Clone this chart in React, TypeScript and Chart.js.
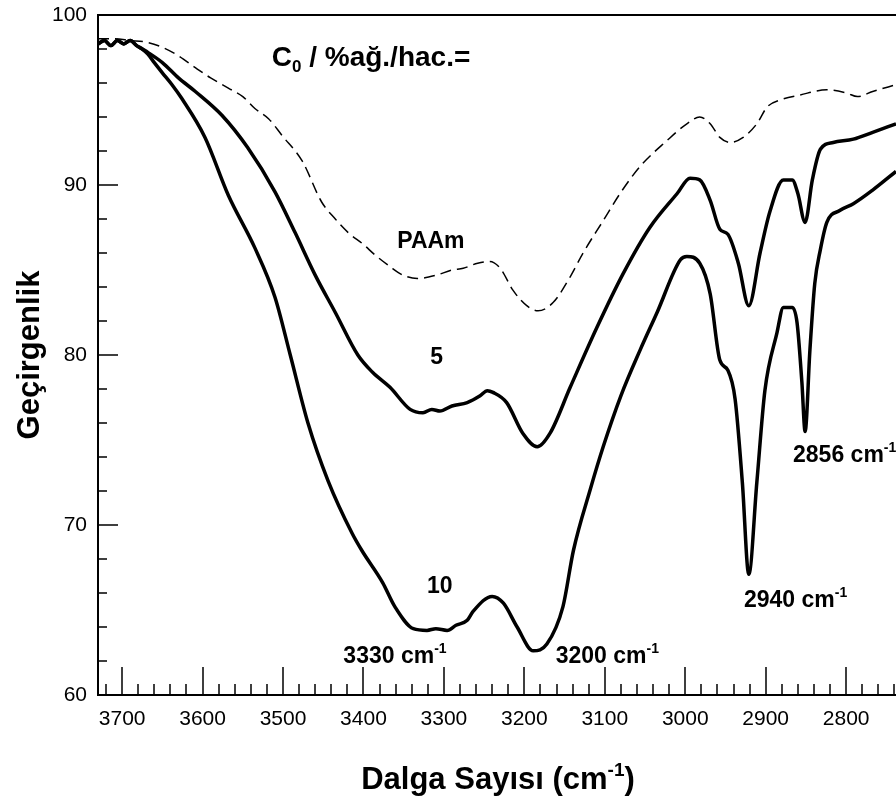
import React, { useEffect, useRef } from "react";
import { Chart, registerables } from "chart.js";

Chart.register(...registerables);

const FONT = '"Liberation Sans", Arial, Helvetica, sans-serif';

// Axis tick labels
const xTickValues = [3700, 3600, 3500, 3400, 3300, 3200, 3100, 3000, 2900, 2800];
const yTickValues = [60, 70, 80, 90, 100];

// Series: [wavenumber (cm-1), transmittance (%)]
const paamSeries: [number, number][] = [
  [3730, 98.6], [3710, 98.6], [3690, 98.5], [3670, 98.4], [3650, 98.1], [3630, 97.6],
  [3609, 96.9], [3590, 96.3], [3568, 95.7], [3550, 95.2], [3535, 94.5], [3518, 93.9],
  [3501, 92.9], [3476, 91.4], [3452, 89.0], [3435, 88.0], [3419, 87.2], [3400, 86.5],
  [3386, 85.9], [3367, 85.2], [3351, 84.7], [3333, 84.5], [3309, 84.7], [3290, 85.0],
  [3276, 85.1], [3258, 85.4], [3243, 85.5], [3230, 85.1], [3214, 83.8], [3197, 82.9],
  [3183, 82.6], [3164, 83.1], [3143, 84.6], [3127, 86.0], [3102, 87.9], [3081, 89.5],
  [3056, 91.1], [3023, 92.6], [2998, 93.6], [2982, 94.0], [2969, 93.6], [2957, 92.8],
  [2944, 92.5], [2928, 92.8], [2911, 93.6], [2898, 94.6], [2882, 95.0], [2857, 95.3],
  [2824, 95.6], [2799, 95.4], [2786, 95.2], [2767, 95.5], [2738, 95.9],
];

const c5Series: [number, number][] = [
  [3730, 98.3], [3722, 98.5], [3714, 98.2], [3706, 98.5], [3698, 98.3], [3690, 98.5],
  [3682, 98.2], [3675, 98.0], [3668, 97.8], [3650, 97.2], [3630, 96.3], [3609, 95.5],
  [3576, 94.1], [3544, 92.2], [3510, 89.6], [3485, 87.2], [3460, 84.7], [3435, 82.5],
  [3407, 80.0], [3389, 79.0], [3367, 78.1], [3342, 76.8], [3326, 76.6], [3315, 76.8],
  [3305, 76.7], [3290, 77.0], [3271, 77.2], [3255, 77.6], [3246, 77.9], [3239, 77.8],
  [3222, 77.2], [3202, 75.4], [3184, 74.6], [3168, 75.4], [3143, 78.1], [3110, 81.6],
  [3077, 84.8], [3044, 87.5], [3010, 89.5], [2994, 90.4], [2982, 90.3], [2969, 89.1],
  [2957, 87.4], [2947, 87.1], [2934, 85.4], [2921, 82.9], [2907, 86.0], [2895, 88.4],
  [2878, 90.3], [2867, 90.3], [2860, 89.5], [2851, 87.8], [2842, 90.3], [2832, 92.1],
  [2816, 92.5], [2791, 92.7], [2767, 93.1], [2738, 93.6],
];

const c10Series: [number, number][] = [
  [3730, 98.3], [3722, 98.5], [3714, 98.2], [3706, 98.5], [3698, 98.3], [3690, 98.5],
  [3682, 98.2], [3675, 98.0], [3668, 97.7], [3660, 97.2], [3650, 96.6], [3638, 95.9],
  [3626, 95.1], [3597, 92.8], [3568, 89.4], [3535, 86.3], [3510, 83.4], [3491, 80.0],
  [3469, 76.0], [3444, 72.6], [3414, 69.5], [3402, 68.5], [3376, 66.6], [3361, 65.2],
  [3338, 63.9], [3321, 63.8], [3310, 63.9], [3296, 63.8], [3285, 64.1], [3271, 64.4],
  [3264, 64.9], [3240, 65.8], [3226, 65.4], [3209, 64.0], [3189, 62.6], [3172, 63.0],
  [3152, 65.2], [3139, 68.5], [3118, 72.1], [3102, 74.6], [3080, 77.6], [3056, 80.3],
  [3035, 82.5], [3006, 85.6], [2998, 85.8], [2982, 85.4], [2969, 83.6], [2957, 79.7],
  [2947, 79.1], [2938, 77.4], [2929, 72.5], [2921, 67.1], [2911, 72.5], [2901, 77.9],
  [2886, 81.3], [2878, 82.8], [2867, 82.8], [2861, 81.9], [2855, 78.4], [2851, 75.5],
  [2845, 80.3], [2839, 84.2], [2832, 86.2], [2824, 87.8], [2808, 88.5], [2791, 88.9],
  [2767, 89.7], [2738, 90.8],
];

// Text annotations: label, superscript, anchor (data coords)
const annotationTexts = ["PAAm", "5", "10", "3330 cm", "3200 cm", "2940 cm", "2856 cm"];
const annotationSup = ["", "", "", "-1", "-1", "-1", "-1"];
const annotationX = [3358, 3317, 3321, 3425, 3161, 2927, 2866];
const annotationY = [86.3, 79.5, 66.0, 61.9, 61.9, 65.2, 73.7];

type Part = { t: string; size: number; dy: number };

function drawParts(ctx: CanvasRenderingContext2D, parts: Part[], x: number, y: number, align: "left" | "center") {
  let total = 0;
  for (const p of parts) {
    ctx.font = `bold ${p.size}px ${FONT}`;
    total += ctx.measureText(p.t).width;
  }
  let cx = align === "center" ? x - total / 2 : x;
  ctx.textAlign = "left";
  ctx.textBaseline = "alphabetic";
  for (const p of parts) {
    ctx.font = `bold ${p.size}px ${FONT}`;
    ctx.fillText(p.t, cx, y + p.dy);
    cx += ctx.measureText(p.t).width;
  }
}

const decorPlugin = {
  id: "decor",
  afterDraw(chart: any) {
    const { ctx, chartArea: a, scales } = chart;
    const xs = scales.x;
    const ys = scales.y;
    ctx.save();
    ctx.strokeStyle = "#000";
    ctx.fillStyle = "#000";
    ctx.lineWidth = 2;
    ctx.beginPath();
    ctx.moveTo(a.left, a.bottom);
    ctx.lineTo(a.left, a.top);
    ctx.lineTo(a.right + 2, a.top);
    ctx.moveTo(a.left - 1, a.bottom);
    ctx.lineTo(a.right + 2, a.bottom);
    ctx.stroke();

    ctx.lineWidth = 1.5;
    ctx.beginPath();
    const xStart = Math.ceil(xs.min / 20) * 20;
    for (let v = xStart; v <= xs.max; v += 20) {
      const px = Math.round(xs.getPixelForValue(v));
      const len = v % 100 === 0 ? 28 : 11;
      ctx.moveTo(px, a.bottom);
      ctx.lineTo(px, a.bottom - len);
    }
    for (let v = ys.min; v <= ys.max; v += 2) {
      const py = Math.round(ys.getPixelForValue(v));
      const len = v % 10 === 0 ? 20 : 9;
      ctx.moveTo(a.left, py);
      ctx.lineTo(a.left + len, py);
    }
    ctx.stroke();

    // Concentration header
    const hx = xs.getPixelForValue(3514);
    const hy = ys.getPixelForValue(97.0);
    drawParts(ctx, [
      { t: "C", size: 28, dy: 0 },
      { t: "0", size: 17, dy: 6 },
      { t: " / %ağ./hac.=", size: 28, dy: 0 },
    ], hx, hy, "left");

    for (let i = 0; i < annotationTexts.length; i++) {
      const ax = xs.getPixelForValue(annotationX[i]);
      const ay = ys.getPixelForValue(annotationY[i]);
      const parts: Part[] = [{ t: annotationTexts[i], size: 23, dy: 0 }];
      if (annotationSup[i]) parts.push({ t: annotationSup[i], size: 14, dy: -10 });
      drawParts(ctx, parts, ax, ay, "left");
    }

    // X axis title
    drawParts(ctx, [
      { t: "Dalga Sayısı (cm", size: 31, dy: 0 },
      { t: "-1", size: 19, dy: -13 },
      { t: ")", size: 31, dy: 0 },
    ], 498, 789, "center");

    // Y axis title
    ctx.translate(39, (a.top + a.bottom) / 2);
    ctx.rotate(-Math.PI / 2);
    drawParts(ctx, [{ t: "Geçirgenlik", size: 31, dy: 0 }], 0, 0, "center");
    ctx.restore();
  },
};

export default function App() {
  const canvasRef = useRef<HTMLCanvasElement | null>(null);

  useEffect(() => {
    const canvas = canvasRef.current;
    if (!canvas) return;
    const toPoints = (s: [number, number][]) => s.map(([x, y]) => ({ x, y }));
    const chart = new Chart(canvas, {
      type: "line",
      data: {
        datasets: [
          {
            label: "PAAm",
            data: toPoints(paamSeries),
            borderColor: "#000",
            borderWidth: 1.5,
            borderDash: [11, 6],
            pointRadius: 0,
            fill: false,
            cubicInterpolationMode: "monotone",
          },
          {
            label: "5",
            data: toPoints(c5Series),
            borderColor: "#000",
            borderWidth: 3.5,
            pointRadius: 0,
            fill: false,
            cubicInterpolationMode: "monotone",
          },
          {
            label: "10",
            data: toPoints(c10Series),
            borderColor: "#000",
            borderWidth: 3.5,
            pointRadius: 0,
            fill: false,
            cubicInterpolationMode: "monotone",
          },
        ],
      },
      options: {
        responsive: false,
        animation: false,
        devicePixelRatio: 1,
        layout: { padding: { top: 15, left: 0, right: 0, bottom: 0 } },
        plugins: { legend: { display: false }, tooltip: { enabled: false } },
        scales: {
          x: {
            type: "linear",
            reverse: true,
            min: 2738,
            max: 3730,
            grid: { display: false, drawTicks: false },
            border: { display: false },
            afterBuildTicks: (s: any) => {
              s.ticks = xTickValues.map((v) => ({ value: v }));
            },
            afterFit: (s: any) => {
              s.height = 105;
              s.paddingLeft = 0;
              s.paddingRight = 0;
            },
            ticks: {
              padding: 12,
              color: "#000",
              font: { family: FONT, size: 21 },
              maxRotation: 0,
              autoSkip: false,
              callback: (v: any) => String(v),
            },
          },
          y: {
            type: "linear",
            min: 60,
            max: 100,
            grid: { display: false, drawTicks: false },
            border: { display: false },
            afterBuildTicks: (s: any) => {
              s.ticks = yTickValues.map((v) => ({ value: v }));
            },
            afterFit: (s: any) => {
              s.width = 98;
              s.paddingTop = 0;
              s.paddingBottom = 0;
            },
            ticks: {
              padding: 11,
              color: "#000",
              font: { family: FONT, size: 21 },
              autoSkip: false,
              callback: (v: any) => String(v),
            },
          },
        },
      },
      plugins: [decorPlugin],
    });
    return () => chart.destroy();
  }, []);

  return (
    <div style={{ position: "fixed", left: 0, top: 0, width: 896, height: 800, overflow: "hidden", background: "#fff" }}>
      <canvas ref={canvasRef} width={896} height={800} style={{ display: "block" }} />
    </div>
  );
}
